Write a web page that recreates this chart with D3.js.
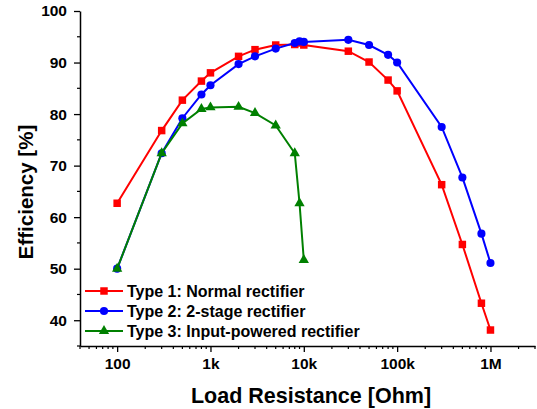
<!DOCTYPE html>
<html>
<head>
<meta charset="utf-8">
<script src="https://cdn.jsdelivr.net/npm/d3@7"></script>
<style>
  body { margin: 0; background: #fff; }
  text { font-family: "Liberation Sans", Arial, sans-serif; font-weight: bold; }
</style>
</head>
<body>
<svg id="chart" width="537" height="409"></svg>
<script>
// Load resistance values [Ohm]
const loads1 = [100, 300, 500, 800, 1000, 2000, 3000, 5000, 8000, 9000, 10000, 30000, 50000, 80000, 100000, 300000, 500000, 800000, 1000000];
const eff1 = [62.7, 76.8, 82.7, 86.4, 88.0, 91.2, 92.5, 93.4, 93.5, 93.8, 93.4, 92.2, 90.1, 86.6, 84.5, 66.3, 54.7, 43.3, 38.1];

const loads2 = [100, 300, 500, 800, 1000, 2000, 3000, 5000, 8000, 9000, 10000, 30000, 50000, 80000, 100000, 300000, 500000, 800000, 1000000];
const eff2 = [50.0, 72.4, 79.2, 83.8, 85.6, 89.7, 91.2, 92.7, 93.8, 94.1, 94.0, 94.4, 93.4, 91.5, 90.0, 77.5, 67.7, 56.8, 51.1];

const loads3 = [100, 300, 500, 800, 1000, 2000, 3000, 5000, 8000, 9000, 10000];
const eff3 = [50.0, 72.4, 78.2, 81.0, 81.3, 81.4, 80.2, 77.8, 72.4, 62.7, 51.7];

const seriesNames = ["Type 1: Normal rectifier", "Type 2: 2-stage rectifier", "Type 3: Input-powered rectifier"];
const seriesColors = ["#ff0000", "#0000ff", "#008000"];
const xTickValues = [100, 1000, 10000, 100000, 1000000];
const xTickLabels = ["100", "1k", "10k", "100k", "1M"];
const yTickValues = [40, 50, 60, 70, 80, 90, 100];

const margin = { top: 11, right: 2, bottom: 63, left: 80 };
const width = 537, height = 409;

const svg = d3.select('#chart');

const x = d3.scaleLog()
    .domain([40, 3e6])
    .range([margin.left, width - margin.right]);

const y = d3.scaleLinear()
    .domain([35, 100])
    .range([height - margin.bottom, margin.top]);

// minor ticks
const xMinor = [];
for (let e = 1; e <= 6; e++) {
    for (let m = 2; m <= 9; m++) {
        const v = m * Math.pow(10, e);
        if (v >= 40 && v <= 3e6) xMinor.push(v);
    }
}
const yMinor = d3.range(35, 100, 10);

// Axes
const xAxis = d3.axisBottom(x)
    .tickValues(xTickValues)
    .tickFormat((d, i) => xTickLabels[i])
    .tickSize(6)
    .tickSizeOuter(0)
    .tickPadding(6);

const gx = svg.append('g')
    .attr('transform', `translate(0,${height - margin.bottom})`)
    .call(xAxis);

gx.selectAll('.tick line').attr('stroke', '#000').attr('stroke-width', 1.3);
gx.select('.domain').attr('stroke-width', 1.5);
gx.selectAll('text').style('font-size', '15.5px').attr('fill', '#000');

gx.selectAll('.minor')
    .data(xMinor)
    .join('line')
    .attr('class', 'minor')
    .attr('x1', d => x(d)).attr('x2', d => x(d))
    .attr('y1', 0).attr('y2', 3)
    .attr('stroke', '#000')
    .attr('stroke-width', 1.2);

const yAxis = d3.axisLeft(y)
    .tickValues(yTickValues)
    .tickSize(6)
    .tickSizeOuter(0)
    .tickPadding(7);

const gy = svg.append('g')
    .attr('transform', `translate(${margin.left},0)`)
    .call(yAxis);

gy.selectAll('.tick line').attr('stroke', '#000').attr('stroke-width', 1.3);
gy.select('.domain').attr('stroke-width', 1.5);
gy.selectAll('text').style('font-size', '15.5px').attr('fill', '#000');

gy.selectAll('.minor')
    .data(yMinor)
    .join('line')
    .attr('class', 'minor')
    .attr('x1', -3).attr('x2', 0)
    .attr('y1', d => y(d)).attr('y2', d => y(d))
    .attr('stroke', '#000')
    .attr('stroke-width', 1.2);

// Axis titles
svg.append('text')
    .attr('x', 311)
    .attr('y', 403)
    .attr('text-anchor', 'middle')
    .style('font-size', '21.5px')
    .text('Load Resistance [Ohm]');

svg.append('text')
    .attr('transform', 'translate(33,192) rotate(-90)')
    .attr('text-anchor', 'middle')
    .style('font-size', '20.5px')
    .text('Efficiency [%]');

// Series
const series = [
    { loads: loads1, eff: eff1, shape: d3.symbolSquare, size: 56 },
    { loads: loads2, eff: eff2, shape: d3.symbolCircle, size: 52 },
    { loads: loads3, eff: eff3, shape: d3.symbolTriangle, size: 46 }
];

const line = d3.line()
    .x(d => x(d[0]))
    .y(d => y(d[1]));

series.forEach((s, i) => {
    const pts = s.loads.map((l, j) => [l, s.eff[j]]);
    const g = svg.append('g');
    g.append('path')
        .datum(pts)
        .attr('d', line)
        .attr('fill', 'none')
        .attr('stroke', seriesColors[i])
        .attr('stroke-width', 2);
    g.selectAll('path.pt')
        .data(pts)
        .join('path')
        .attr('class', 'pt')
        .attr('d', d3.symbol().type(s.shape).size(s.size))
        .attr('transform', d => `translate(${x(d[0])},${y(d[1])})`)
        .attr('fill', seriesColors[i]);
});

// Legend
const legend = svg.append('g');
seriesNames.forEach((name, i) => {
    const ly = 291 + i * 20;
    legend.append('line')
        .attr('x1', 85).attr('x2', 123)
        .attr('y1', ly).attr('y2', ly)
        .attr('stroke', seriesColors[i])
        .attr('stroke-width', 2);
    legend.append('path')
        .attr('d', d3.symbol().type(series[i].shape).size(series[i].size))
        .attr('transform', `translate(104,${ly})`)
        .attr('fill', seriesColors[i]);
    legend.append('text')
        .attr('x', 127)
        .attr('y', ly + 6)
        .style('font-size', '16px')
        .text(name);
});
</script>
</body>
</html>
